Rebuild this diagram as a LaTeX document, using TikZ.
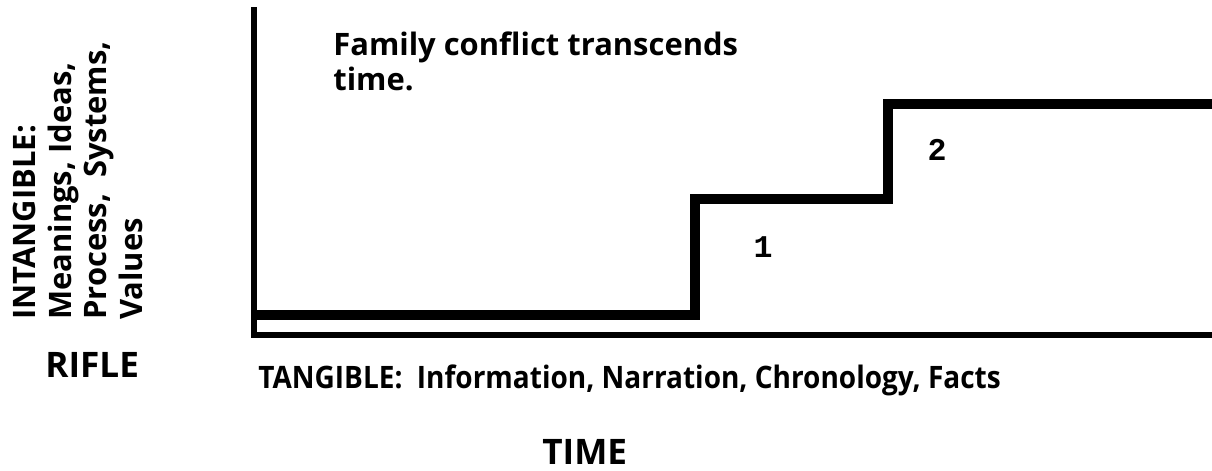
\documentclass[tikz,border=0pt]{standalone}
\usepackage{fontspec}
\setmainfont{Open Sans}
\newfontfamily\narrowfont{Open Sans}[FakeStretch=0.905]
\newfontfamily\digitfont{Liberation Mono}
\usetikzlibrary{math}

\tikzset{
  axisline/.style={line width=3.1pt},
  stepline/.style={line width=6.2pt, line join=miter},
  bodytext/.style={font=\fontsize{17.6}{20}\selectfont\bfseries, inner sep=0pt},
  sidetext/.style={font=\fontsize{17.6}{20.2}\selectfont\bfseries, inner sep=0pt},
  bigtext/.style={font=\fontsize{20}{24}\selectfont\bfseries, inner sep=0pt},
  numtext/.style={font=\digitfont\fontsize{18}{20}\selectfont\bfseries, inner sep=0pt}
}

\begin{document}
\begin{tikzpicture}[x=0.02cm, y=-0.02cm]
\tikzmath{
\ya=315; \yb=199; \yc=104;
}
\useasboundingbox (0,0) rectangle (1212,470);

% axes
\coordinate (top) at (254,7);
\coordinate (corner) at (254,335);
\coordinate (end) at (1212,335);
\draw[axisline] (top) -- (corner) -- (end);

% steps
\coordinate (a) at (254,\ya);
\coordinate (b) at (695,\yb);
\coordinate (c) at (888,\yc);
\coordinate (d) at (1212,\yc);
\draw[stepline] (a) -| (b) -| (c) -- (d);

\node[numtext] (one) at (763,247) {1};
\node[numtext] (two) at (937,150) {2};

\node[bodytext, anchor=north west, align=left] (title) at (333,31) {Family conflict transcends\\time.};
\node[bodytext, font=\narrowfont\fontsize{17.6}{20}\selectfont\bfseries, anchor=base west] (tangible) at (258,388) {TANGIBLE:\ \ Information, Narration, Chronology, Facts};
\node[sidetext, rotate=90, anchor=north west, align=left] (intangible) at (13,320) {INTANGIBLE:\\Meanings, Ideas,\\Process,\ \ Systems,\\Values};
\node[bigtext, anchor=base west] (rifle) at (45,377) {RIFLE};
\node[bigtext, anchor=base west] (time) at (542,464) {TIME};

\end{tikzpicture}
\end{document}
